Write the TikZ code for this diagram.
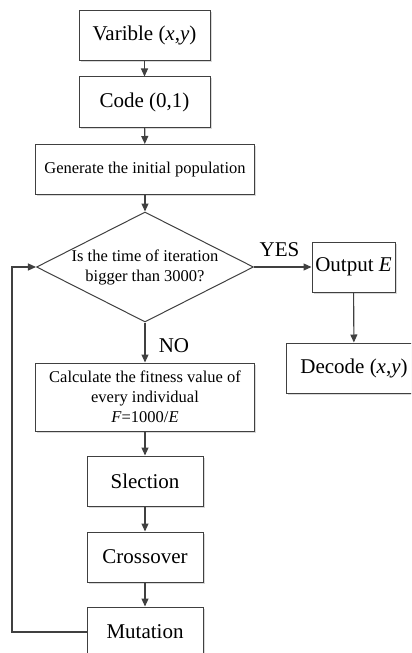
\documentclass[tikz,border=0pt]{standalone}
\usepackage{fontspec}
\setmainfont{Liberation Serif}
\usetikzlibrary{arrows.meta}
\usetikzlibrary{shapes.geometric}
\usetikzlibrary{shadows}

\definecolor{linegray}{RGB}{64,64,64}

\tikzset{
  stepbox/.style={rectangle, draw=linegray, line width=1bp, fill=white,
    inner sep=0pt, minimum height=50bp, align=center,
    font=\fontsize{21bp}{24bp}\selectfont,
    drop shadow={shadow xshift=1.5bp, shadow yshift=-1.5bp, opacity=0.3}},
  smalltext/.style={font=\fontsize{16.5bp}{20bp}\selectfont},
  flow/.style={draw=linegray, line width=1.1bp, -{Triangle[length=8bp,width=7bp]}},
}

\begin{document}
\begin{tikzpicture}[x=1bp, y=-1bp]
  \useasboundingbox (0,0) rectangle (411,653);
  \clip (0,0) rectangle (411,653);

  \node (test) [diamond, draw=linegray, line width=1bp, fill=white,
    minimum width=217bp, minimum height=110bp, inner sep=0pt] at (145,267) {};
  \node (testtext) [smalltext, align=center] at (145,267)
    {Is the time of iteration\\bigger than 3000?};

  \begin{scope}[every node/.style={stepbox}]
    \node (var) [minimum width=131bp] at (144.5,35.5) {Varible (\textit{x},\textit{y})};
    \node (code) [minimum width=131bp] at (144.5,102) {Code (0,1)};
    \node (gen) [minimum width=218bp, smalltext] at (145,169.5) {Generate the initial population};
    \node (out) [minimum width=83bp] at (353.5,267) {Output \textit{E}};
    \node (dec) [minimum width=136bp] at (354,368) {Decode (\textit{x},\textit{y})};
    \node (fit) [minimum width=218bp, minimum height=68bp, smalltext] at (145,397)
      {Calculate the fitness value of\\every individual\\\textit{F}=1000/\textit{E}};
    \node (sel) [minimum width=116bp] at (145,481) {Slection};
    \node (cro) [minimum width=116bp] at (145,557) {Crossover};
    \node (mut) [minimum width=116bp] at (145,632) {Mutation};
  \end{scope}

  \node (yes) [font=\fontsize{21bp}{24bp}\selectfont] at (279.5,250) {YES};
  \node (no) [font=\fontsize{21bp}{24bp}\selectfont] at (174,346) {NO};
  \coordinate (loop) at (12,267);

  \path [flow] (var) -- (code);
  \path [flow] (code) -- (gen);
  \path [flow] (gen) -- (test.north);
  \path [flow] (test.east) -- (out.west);
  \path [flow] (out) -- (dec);
  \path [flow] (test.south) -- (fit);
  \path [flow] (fit) -- (sel);
  \path [flow] (sel) -- (cro);
  \path [flow] (cro) -- (mut);
  \path [flow] (mut.west) -| (loop) -- (test.west);
\end{tikzpicture}
\end{document}
